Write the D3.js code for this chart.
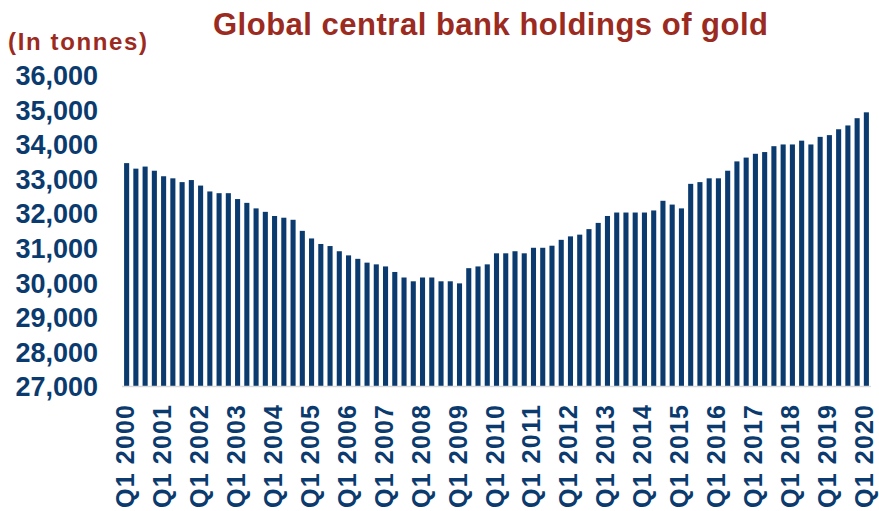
<!DOCTYPE html>
<html>
<head>
<meta charset="utf-8">
<script src="https://cdn.jsdelivr.net/npm/d3@7/dist/d3.min.js"></script>
<style>
  html, body { margin: 0; padding: 0; background: #fff; }
  svg { display: block; font-family: "Liberation Sans", Arial, sans-serif; }
</style>
</head>
<body>
<div id="chart"></div>
<script>
// years shown on the axis (one Q1 label per year)
const years = [2000, 2001, 2002, 2003, 2004, 2005, 2006, 2007, 2008, 2009, 2010,
  2011, 2012, 2013, 2014, 2015, 2016, 2017, 2018, 2019, 2020];
const quarters = ['Q1', 'Q2', 'Q3', 'Q4'];

// tonnes held, quarterly Q1 2000 .. Q1 2020
const holdings = [
  33450, 33290, 33350, 33230,
  33070, 33010, 32900, 32960,
  32800, 32630, 32580, 32580,
  32410, 32300, 32140, 32040,
  31920, 31870, 31810, 31490,
  31270, 31110, 31050, 30900,
  30780, 30680, 30570, 30520,
  30460, 30300, 30140, 30030,
  30140, 30140, 30030, 30030,
  29970, 30410, 30460, 30520,
  30840, 30840, 30900, 30840,
  31000, 31000, 31060, 31230,
  31330, 31380, 31540, 31720,
  31920, 32020, 32020, 32020,
  32020, 32080, 32360, 32250,
  32140, 32850, 32900, 33010,
  33010, 33230, 33500, 33610,
  33720, 33770, 33940, 33990,
  33990, 34100, 33990, 34210,
  34260, 34430, 34540, 34750,
  34920
];

const yTicks = [27000, 28000, 29000, 30000, 31000, 32000, 33000, 34000, 35000, 36000];

const title = 'Global central bank holdings of gold';
const unitLabel = '(In tonnes)';

// categories: "Q1 2000", "Q2 2000", ... "Q1 2020"
const categories = [];
years.forEach(yr => quarters.forEach(q => {
  if (categories.length < holdings.length) categories.push(q + ' ' + yr);
}));
const data = categories.map((c, i) => ({ cat: c, value: holdings[i] }));

const width = 879, height = 511;
const blue = '#0b3b6e', red = '#9b2a21';

const svg = d3.select('#chart').append('svg')
  .attr('width', width)
  .attr('height', height);

const x = d3.scaleBand()
  .domain(categories)
  .range([122, 871])
  .paddingInner(0.45)
  .paddingOuter(0.225);

const y = d3.scaleLinear()
  .domain([27000, 36000])
  .range([386, 75]);

// title + unit
svg.append('text')
  .attr('x', 213).attr('y', 35)
  .attr('textLength', 555).attr('lengthAdjust', 'spacing')
  .style('font-size', '31px').style('font-weight', 'bold')
  .style('fill', red)
  .text(title);

svg.append('text')
  .attr('x', 8).attr('y', 50)
  .attr('textLength', 139).attr('lengthAdjust', 'spacing')
  .style('font-size', '24px').style('font-weight', 'bold')
  .style('fill', red)
  .text(unitLabel);

// bars
svg.append('g')
  .selectAll('rect')
  .data(data)
  .enter().append('rect')
  .attr('x', d => x(d.cat))
  .attr('width', x.bandwidth())
  .attr('y', d => y(d.value))
  .attr('height', d => y(27000) - y(d.value))
  .style('fill', blue);

// base line
svg.append('line')
  .attr('x1', 122).attr('x2', 871)
  .attr('y1', y(27000) + 0.5).attr('y2', y(27000) + 0.5)
  .style('stroke', '#d9d9d9').style('stroke-width', 1.5);

// y axis labels
const yAxis = d3.axisLeft(y)
  .tickValues(yTicks)
  .tickFormat(d3.format(','))
  .tickSize(0)
  .tickPadding(0);

const gy = svg.append('g')
  .attr('transform', 'translate(98,0)')
  .call(yAxis);
gy.select('.domain').remove();
gy.selectAll('text')
  .attr('dy', '0.36em')
  .style('font-family', '"Liberation Sans", Arial, sans-serif')
  .style('font-size', '27px').style('font-weight', 'bold')
  .style('fill', blue);

// x axis labels, only the Q1 ones
const xAxis = d3.axisBottom(x)
  .tickValues(categories.filter(c => c.startsWith('Q1')))
  .tickSize(0)
  .tickPadding(0);

const gx = svg.append('g')
  .attr('transform', 'translate(0,405)')
  .call(xAxis);
gx.select('.domain').remove();
gx.selectAll('text')
  .attr('transform', 'rotate(-90)')
  .attr('x', 0).attr('y', 0)
  .attr('dy', '0.28em')
  .attr('textLength', 103).attr('lengthAdjust', 'spacing')
  .style('text-anchor', 'end')
  .style('font-family', '"Liberation Sans", Arial, sans-serif')
  .style('font-size', '25px').style('font-weight', 'bold')
  .style('fill', blue);
</script>
</body>
</html>
